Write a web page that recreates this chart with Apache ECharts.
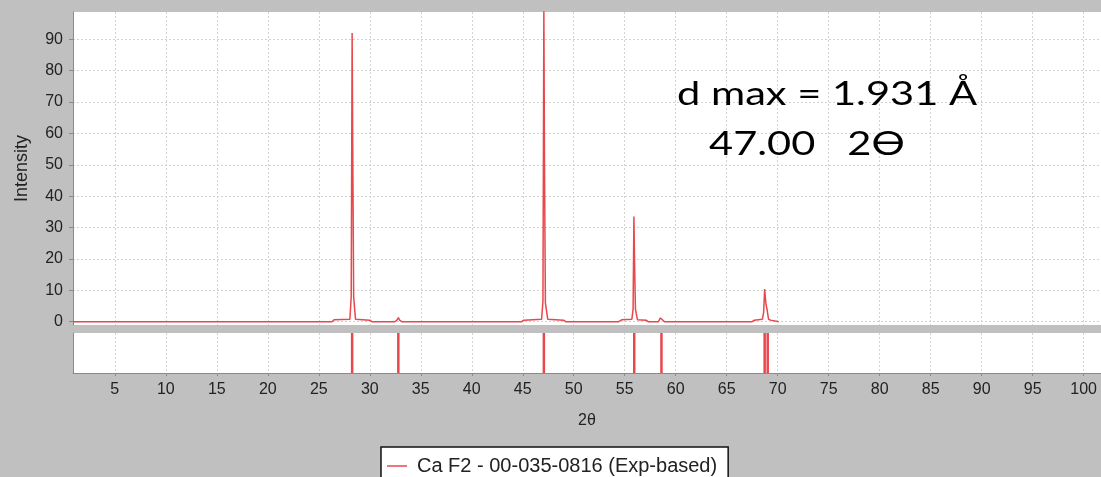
<!DOCTYPE html>
<html>
<head>
<meta charset="utf-8">
<script src="https://cdn.jsdelivr.net/npm/echarts@6/dist/echarts.min.js"></script>
<style>
html,body{margin:0;padding:0;background:#c0c0c0;}
#c{width:1101px;height:477px;}
</style>
</head>
<body>
<div id="c"></div>
<script>
// Measured XRD profile (2θ, intensity)
const profileTheta = [0.9, 26.3, 26.5, 28.05, 28.18, 28.27, 28.33, 28.42, 28.6, 30.0, 30.2, 32.45, 32.65, 32.8, 32.95, 33.15, 44.9, 45.1, 46.85, 46.98, 47.07, 47.13, 47.22, 47.45, 49.0, 49.2, 54.4, 54.7, 55.7, 55.82, 55.9, 55.97, 56.05, 56.25, 57.1, 57.3, 58.3, 58.5, 58.7, 58.9, 67.5, 67.7, 68.5, 68.62, 68.72, 68.85, 68.95, 69.1, 69.3, 70.1];
const profileIntensity = [0, 0, 0.6, 0.8, 8, 92, 55, 8, 0.8, 0.5, 0, 0, 0.4, 1.3, 0.4, 0, 0, 0.5, 0.8, 6.5, 100, 52, 6, 0.8, 0.5, 0, 0, 0.6, 0.8, 4, 33.5, 17.6, 4, 0.6, 0.5, 0, 0, 1.2, 0.6, 0, 0, 0.5, 0.8, 3, 10.4, 5.5, 4, 0.8, 0.5, 0];
// Reference pattern stick positions (2θ)
const stickTheta = [28.27, 32.8, 47.07, 55.93, 58.6, 68.72, 69.02];
const xTicks = [5,10,15,20,25,30,35,40,45,50,55,60,65,70,75,80,85,90,95,100];
const yTicks = [0,10,20,30,40,50,60,70,80,90];
const seriesName = 'Ca F2 - 00-035-0816 (Exp-based)';
const note1 = 'd max = 1.931 Å';
const note2 = '47.00   2ϴ';

const red = '#e8474b';
const gridColor = '#d2d2d2';
const axisGray = '#8a8a8a';
const txt = '#222';

const chart = echarts.init(document.getElementById('c'));
chart.setOption({
  animation: false,
  backgroundColor: '#c0c0c0',
  grid: [
    {left: 73, top: 12, right: -3, height: 313, show: true, backgroundColor: '#fff', borderWidth: 0},
    {left: 73, top: 333, right: -3, height: 40, show: true, backgroundColor: '#fff', borderWidth: 0}
  ],
  xAxis: [
    {type: 'value', gridIndex: 0, min: 0.9, max: 101.7,
     axisLine: {show: false}, axisLabel: {show: false},
     axisTick: {show: false, customValues: xTicks},
     splitLine: {show: true, lineStyle: {color: gridColor, type: [2,2]}}},
    {type: 'value', gridIndex: 1, min: 0.9, max: 101.7,
     axisLine: {show: true, lineStyle: {color: axisGray}},
     axisTick: {show: true, length: 3, inside: false, customValues: xTicks, lineStyle: {color: axisGray}},
     axisLabel: {show: true, customValues: xTicks, color: txt, fontFamily: 'Liberation Sans', fontSize: 16, margin: 9},
     splitLine: {show: true, lineStyle: {color: gridColor, type: [2,2]}},
     name: '2θ', nameLocation: 'middle', nameGap: 40,
     nameTextStyle: {color: txt, fontFamily: 'Liberation Sans', fontSize: 16}}
  ],
  yAxis: [
    {type: 'value', gridIndex: 0, min: -1.05, max: 98.7,
     axisLine: {show: true, lineStyle: {color: axisGray}},
     axisTick: {show: true, length: 4, customValues: yTicks, lineStyle: {color: axisGray}},
     axisLabel: {show: true, customValues: yTicks, color: txt, fontFamily: 'Liberation Sans', fontSize: 16, margin: 10},
     splitLine: {show: true, lineStyle: {color: gridColor, type: [2,2]}},
     name: 'Intensity', nameLocation: 'middle', nameGap: 42, nameRotate: 90,
     nameTextStyle: {color: txt, fontFamily: 'Liberation Sans', fontSize: 18}},
    {type: 'value', gridIndex: 1, min: 0, max: 1,
     axisLine: {show: true, lineStyle: {color: axisGray}},
     axisTick: {show: false}, axisLabel: {show: false}, splitLine: {show: false}}
  ],
  legend: {
    left: 381, top: 447,
    data: [{name: seriesName, icon: 'rect'}],
    itemWidth: 20, itemHeight: 1.5, itemGap: 5,
    backgroundColor: '#fff', borderColor: '#111', borderWidth: 1.5, borderRadius: 0,
    padding: [9, 11, 12, 6],
    textStyle: {color: txt, fontFamily: 'Liberation Sans', fontSize: 20, padding: [0, 0, 0, 5]}
  },
  graphic: [
    {type: 'text', x: 677, y: 79, scaleX: 1.3, z: 100,
     style: {text: note1, font: '32px Lato', fill: '#000', textVerticalAlign: 'top'}},
    {type: 'text', x: 709, y: 129, scaleX: 1.3, z: 100,
     style: {text: note2, font: '32px Lato', fill: '#000', textVerticalAlign: 'top'}}
  ],
  series: [
    {name: seriesName, type: 'line', xAxisIndex: 0, yAxisIndex: 0,
     data: profileTheta.map((t, i) => [t, profileIntensity[i]]),
     showSymbol: false, symbol: 'none', lineStyle: {color: red, width: 1.5}, itemStyle: {color: red},
     clip: true},
    {name: 'sticks', type: 'bar', xAxisIndex: 1, yAxisIndex: 1,
     data: stickTheta.map(t => [t, 1]), barWidth: 2.5, itemStyle: {color: red}}
  ]
});
</script>
</body>
</html>
